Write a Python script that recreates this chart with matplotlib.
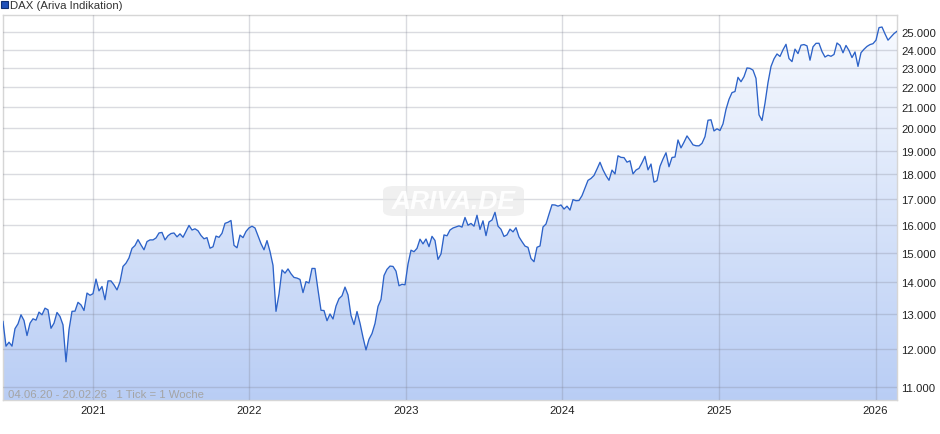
import numpy as np
import pandas as pd
import matplotlib
matplotlib.use('Agg')
import matplotlib.pyplot as plt
from matplotlib.patches import Rectangle, FancyBboxPatch
from matplotlib.ticker import FixedLocator, FuncFormatter, NullLocator

plt.rcParams['font.family'] = ['Liberation Sans', 'DejaVu Sans']

# weekly values (1 Tick = 1 Woche), 04.06.20 - 20.02.26
vals_2020 = [12790, 12080, 12190, 12080, 12580, 12720, 12990, 12820, 12380, 12740,
             12870, 12830, 13070, 12990, 13190, 13140, 12590, 12740, 13060, 12940,
             12690, 11650, 12550, 13094, 13100, 13370, 13290, 13120, 13660, 13590]
vals_2021 = [13640, 14110, 13730, 13870, 13450, 14050, 14050, 13920, 13760, 14020,
             14530, 14640, 14820, 15150, 15250, 15460, 15270, 15100, 15390, 15450,
             15450, 15520, 15700, 15720, 15450, 15600, 15680, 15700, 15560, 15669,
             15544, 15761, 15977, 15808, 15852, 15781, 15609, 15490, 15531, 15156,
             15206, 15587, 15543, 15688, 16054, 16094, 16160, 15257, 15170, 15623,
             15532, 15756, 15885]
vals_2022 = [15948, 15883, 15603, 15318, 15100, 15425, 15042, 14567, 13094, 13628,
             14413, 14305, 14446, 14284, 14164, 14142, 14098, 13674, 14027, 13982,
             14462, 14460, 13762, 13126, 13118, 12813, 13015, 12864, 13254, 13484,
             13574, 13850, 13600, 12971, 12700, 13088, 12741, 12330, 11975, 12273,
             12438, 12731, 13243, 13460, 14225, 14431, 14541, 14529, 14371, 13893,
             13941, 13924]
vals_2023 = [14610, 15086, 15033, 15150, 15476, 15308, 15482, 15210, 15578, 15428,
             14768, 14957, 15629, 15598, 15808, 15882, 15922, 15961, 15914, 16275,
             15984, 16051, 15950, 16358, 15830, 16148, 15603, 16106, 16177, 16469,
             15952, 15832, 15574, 15632, 15840, 15740, 15894, 15557, 15387, 15230,
             15186, 14798, 14688, 15189, 15234, 15919, 16029, 16398, 16759, 16751,
             16706, 16752]
vals_2024 = [16594, 16705, 16555, 16961, 16918, 16927, 17117, 17419, 17735, 17814,
             17937, 18206, 18492, 18175, 17930, 17737, 18161, 18001, 18773, 18704,
             18693, 18498, 18557, 18002, 18164, 18235, 18475, 18748, 18171, 18418,
             17661, 17723, 18322, 18633, 18906, 18302, 18700, 18720, 19474, 19121,
             19373, 19657, 19464, 19255, 19215, 19211, 19323, 19626, 20384, 20406,
             19885, 19984]
vals_2025 = [19906, 20215, 20903, 21394, 21732, 21787, 22514, 22287, 22551, 23009,
             22987, 22892, 22461, 20641, 20374, 21205, 22242, 23087, 23499, 23767,
             23630, 23997, 24304, 23516, 23350, 24033, 23787, 24255, 24290, 24217,
             23426, 24163, 24359, 24363, 23902, 23597, 23698, 23639, 23739, 24378,
             24241, 23831, 24240, 23958, 23569, 23876, 23091, 23836, 24028, 24186,
             24288, 24340]
vals_2026 = [24539, 25261, 25297, 24900, 24538, 24721, 24914, 25050]

values = vals_2020 + vals_2021 + vals_2022 + vals_2023 + vals_2024 + vals_2025 + vals_2026
dates = pd.date_range('2020-06-05', periods=len(values), freq='W-FRI')

y_ticks = list(range(11000, 26000, 1000))
year_ticks = [2021, 2022, 2023, 2024, 2025, 2026]
title = 'DAX (Ariva Indikation)'
range_text = '04.06.20 - 20.02.26   1 Tick = 1 Woche'

W, H = 940, 435
fig = plt.figure(figsize=(W / 100, H / 100), dpi=100)
fig.patch.set_facecolor('white')
ax = fig.add_axes([3 / W, (H - 401) / H, (897 - 3) / W, (401 - 16) / H])
ax.set_yscale('log')

# gradient fill under the curve
poly = ax.fill_between(dates, values, 1000, color='none', lw=0)
grad = np.linspace(0, 1, 256).reshape(-1, 1, 1)
top_c = np.array([0.975, 0.985, 1.0]).reshape(1, 1, 3)
bot_c = np.array([0.725, 0.805, 0.96]).reshape(1, 1, 3)
img = top_c * (1 - grad) + bot_c * grad
im = ax.imshow(img, extent=[0, 1, 0, 1], transform=ax.transAxes, aspect='auto',
               origin='upper', zorder=1, interpolation='bilinear')
im.set_clip_path(poly.get_paths()[0], transform=ax.transData)

ax.plot(dates, values, color='#2c62c8', lw=0.95, zorder=3)

ax.set_xlim(dates[0], dates[-1])
ax.set_ylim(10663, 26011)

ax.yaxis.set_major_locator(FixedLocator(y_ticks))
ax.yaxis.set_minor_locator(NullLocator())
ax.yaxis.set_major_formatter(FuncFormatter(lambda v, p: f"{v:,.0f}".replace(',', '.')))
ax.yaxis.tick_right()
ax.tick_params(axis='y', which='both', length=0, pad=3, labelsize=8.2, colors='#222222')

xt = [pd.Timestamp(f'{y}-01-01') for y in year_ticks]
ax.set_xticks(xt)
ax.set_xticklabels([str(y) for y in year_ticks])
ax.xaxis.set_minor_locator(NullLocator())
ax.tick_params(axis='x', which='both', length=0, pad=3.5, labelsize=8.2, colors='#222222')

ax.set_axisbelow(False)
ax.grid(True, color='#7d8090', alpha=0.28, lw=1.0)
for s in ax.spines.values():
    s.set_color('#d6d6d6')
    s.set_linewidth(1.0)

# watermark
wm = FancyBboxPatch((383 / W, 1 - 217 / H), 141 / W, 30 / H,
                    boxstyle='round,pad=0,rounding_size=0.012',
                    transform=fig.transFigure, fc='#e6e6e6', ec='none', alpha=0.6, zorder=2.6)
ax.add_artist(wm)
wm.set_transform(fig.transFigure)
ax.text((454 - 3) / (897 - 3), (401 - 202) / (401 - 16), 'ARIVA.DE', transform=ax.transAxes,
        ha='center', va='center', fontsize=19, fontweight='bold', fontstyle='italic',
        color='white', alpha=0.95, zorder=2.7)

ax.text(5 / (897 - 3), (401 - 395) / (401 - 16), range_text, transform=ax.transAxes,
        ha='left', va='center', fontsize=8.2, color='#a4a4a4', zorder=4)

# legend-like header
fig.add_artist(Rectangle((1 / W, 1 - 9 / H), 7 / W, 7 / H, transform=fig.transFigure,
                         fc='#1f50b8', ec='#0f2f70', lw=0.8))
fig.text(10 / W, 1 - 6 / H, title, ha='left', va='center', fontsize=8.2, color='#333333')

fig.savefig('out.png', dpi=100)
